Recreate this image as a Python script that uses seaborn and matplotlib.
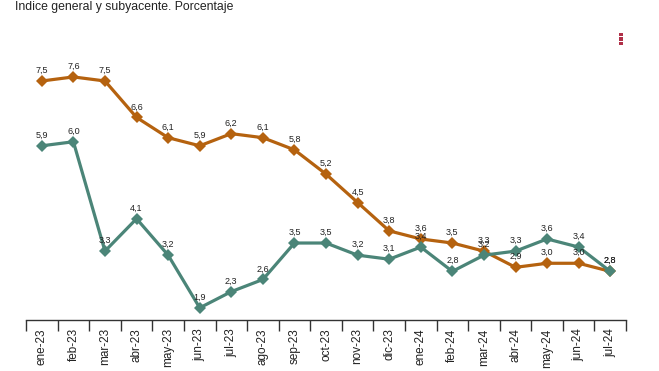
import numpy as np
import pandas as pd
import matplotlib
matplotlib.use("Agg")
import matplotlib.pyplot as plt
from matplotlib.patches import Rectangle
import seaborn as sns

# Data
MONTHS = ['ene-23', 'feb-23', 'mar-23', 'abr-23', 'may-23', 'jun-23', 'jul-23',
          'ago-23', 'sep-23', 'oct-23', 'nov-23', 'dic-23', 'ene-24', 'feb-24',
          'mar-24', 'abr-24', 'may-24', 'jun-24', 'jul-24']
GENERAL = [5.9, 6.0, 3.3, 4.1, 3.2, 1.9, 2.3, 2.6, 3.5, 3.5, 3.2, 3.1, 3.4, 2.8,
           3.2, 3.3, 3.6, 3.4, 2.8]
SUBYACENTE = [7.5, 7.6, 7.5, 6.6, 6.1, 5.9, 6.2, 6.1, 5.8, 5.2, 4.5, 3.8, 3.6, 3.5,
              3.3, 2.9, 3.0, 3.0, 2.8]

TITLE = "Indice general y subyacente. Porcentaje"
C_GEN = "#4b8578"
C_SUB = "#b5620f"

df = pd.DataFrame({
    "pos": list(range(len(MONTHS))) * 2,
    "valor": GENERAL + SUBYACENTE,
    "serie": ["General"] * len(MONTHS) + ["Subyacente"] * len(MONTHS),
})

sns.set_style("white")
plt.rcParams['font.family'] = ['Liberation Sans', 'DejaVu Sans']

fig = plt.figure(figsize=(6.59, 3.71), dpi=100)
ax = fig.add_axes([0.0395, 0.1375, 0.9105, 0.808])

sns.lineplot(data=df, x="pos", y="valor", hue="serie", hue_order=["Subyacente", "General"],
             palette={"General": C_GEN, "Subyacente": C_SUB}, marker="D",
             markersize=6.5, markeredgewidth=0, linewidth=2.3, legend=False, ax=ax)

# value labels
for vals in (GENERAL, SUBYACENTE):
    for i, v in enumerate(vals):
        ax.text(i, v + 0.15, f"{v:.1f}".replace(".", ","), ha="center", va="bottom",
                fontsize=6.5, color="#222222")

ax.set_xlim(-0.5, len(MONTHS) - 0.5)
ax.set_ylim(1.6, 9.0)
ax.set_xlabel("")
ax.set_ylabel("")
ax.set_yticks([])
ax.set_xticks(range(len(MONTHS)))
ax.set_xticklabels(MONTHS, rotation=90, fontsize=8.5, color="#222222")
ax.set_xticks(np.arange(-0.5, len(MONTHS)), minor=True)
ax.tick_params(axis="x", which="major", length=0, pad=6)
ax.tick_params(axis="x", which="minor", length=8, width=1, color="#333333", bottom=True)
for s in ("top", "right", "left"):
    ax.spines[s].set_visible(False)
ax.spines["bottom"].set_color("#333333")
ax.spines["bottom"].set_linewidth(1)

fig.text(0.023, 0.998, TITLE, ha="left", va="top", fontsize=8.8, color="#222222")

# menu icon (three small squares)
for k in range(3):
    fig.add_artist(Rectangle((619 / 659, 1 - (36 + k * 4.5) / 371), 3.5 / 659, 3.3 / 371,
                             transform=fig.transFigure, color="#b03048", lw=0))

fig.savefig("out.png", dpi=100)
